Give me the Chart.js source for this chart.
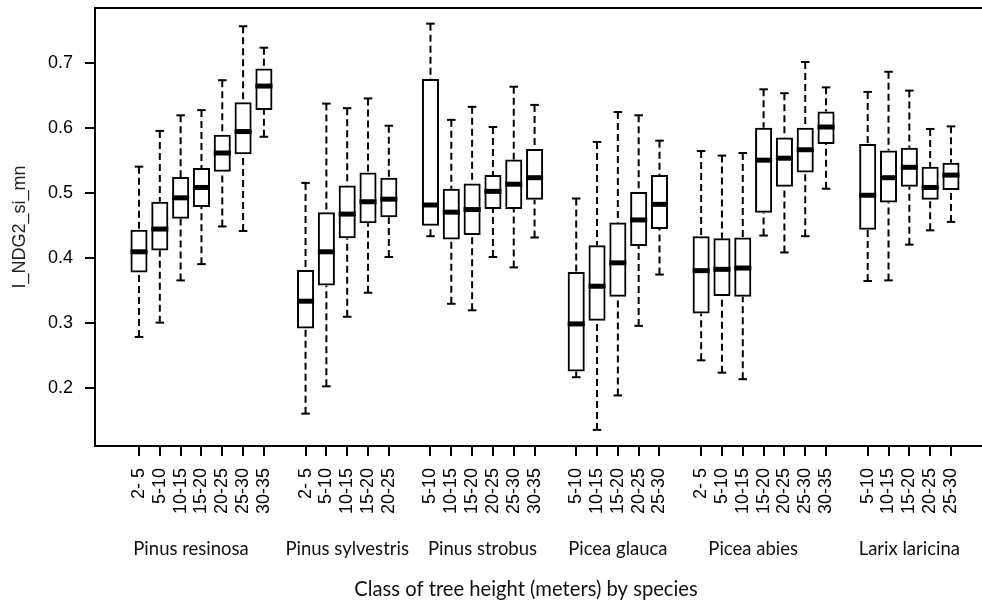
<!DOCTYPE html>
<html>
<head>
<meta charset="utf-8">
<script src="https://cdn.jsdelivr.net/npm/chart.js@4.4.1/dist/chart.umd.min.js"></script>
<style>
  html, body { margin: 0; padding: 0; background: #fff; overflow: hidden; }
  #wrap { width: 982px; height: 603px; position: relative; }
</style>
</head>
<body>
<div id="wrap"><canvas id="boxes"></canvas></div>
<script>
// species and their height classes (one box per class)
const species = ['Pinus resinosa', 'Pinus sylvestris', 'Pinus strobus', 'Picea glauca', 'Picea abies', 'Larix laricina'];
const heightClasses = [
  ['2- 5', '5-10', '10-15', '15-20', '20-25', '25-30', '30-35'],
  ['2- 5', '5-10', '10-15', '15-20', '20-25'],
  ['5-10', '10-15', '15-20', '20-25', '25-30', '30-35'],
  ['5-10', '10-15', '15-20', '20-25', '25-30'],
  ['2- 5', '5-10', '10-15', '15-20', '20-25', '25-30', '30-35'],
  ['5-10', '10-15', '15-20', '20-25', '25-30'],
];

// box statistics, in the same order as the classes above
const lowWhisker = [
  0.279, 0.301, 0.366, 0.391, 0.449, 0.442, 0.587,
  0.161, 0.203, 0.310, 0.347, 0.402,
  0.434, 0.330, 0.320, 0.402, 0.386, 0.432,
  0.217, 0.136, 0.189, 0.296, 0.375,
  0.243, 0.224, 0.214, 0.435, 0.409, 0.434, 0.507,
  0.365, 0.366, 0.421, 0.443, 0.456,
];
const lowerHinge = [
  0.378, 0.412, 0.461, 0.479, 0.533, 0.560, 0.628,
  0.292, 0.358, 0.431, 0.454, 0.463,
  0.450, 0.429, 0.436, 0.476, 0.476, 0.490,
  0.226, 0.304, 0.341, 0.419, 0.445,
  0.315, 0.342, 0.341, 0.470, 0.510, 0.532, 0.576,
  0.444, 0.486, 0.510, 0.490, 0.505,
];
const medians = [
  0.410, 0.445, 0.493, 0.509, 0.562, 0.595, 0.665,
  0.334, 0.410, 0.468, 0.487, 0.491,
  0.482, 0.471, 0.475, 0.503, 0.514, 0.524,
  0.299, 0.357, 0.393, 0.459, 0.483,
  0.381, 0.383, 0.385, 0.551, 0.554, 0.567, 0.602,
  0.497, 0.524, 0.540, 0.509, 0.528,
];
const upperHinge = [
  0.444, 0.487, 0.525, 0.539, 0.590, 0.640, 0.692,
  0.382, 0.471, 0.512, 0.532, 0.524,
  0.676, 0.507, 0.515, 0.528, 0.552, 0.568,
  0.379, 0.420, 0.455, 0.502, 0.528,
  0.434, 0.431, 0.432, 0.601, 0.586, 0.601, 0.626,
  0.576, 0.566, 0.570, 0.541, 0.547,
];
const highWhisker = [
  0.541, 0.596, 0.620, 0.628, 0.674, 0.757, 0.724,
  0.516, 0.638, 0.631, 0.646, 0.604,
  0.761, 0.613, 0.633, 0.602, 0.664, 0.636,
  0.492, 0.579, 0.625, 0.620, 0.581,
  0.565, 0.558, 0.562, 0.660, 0.654, 0.702, 0.663,
  0.656, 0.687, 0.658, 0.599, 0.603,
];
const yTicks = [0.2, 0.3, 0.4, 0.5, 0.6, 0.7];

// one slot per box, one empty slot between species
const slots = [];
const slotLabel = {};
let s = 1;
heightClasses.forEach(group => {
  group.forEach(c => { slots.push(s); slotLabel[s] = c; s++; });
  s++;
});

// where the species names sit, in slot units
const speciesAt = [3.5, 11, 17.5, 24, 30.5, 38];

const axisFont = { family: '"Liberation Sans", Arial, sans-serif', size: 18 };

const boxParts = {
  id: 'boxParts',
  afterDatasetsDraw(chart) {
    const { ctx, chartArea: a, scales: { x, y } } = chart;
    const meta = chart.getDatasetMeta(0);
    ctx.save();
    ctx.strokeStyle = '#000';
    ctx.lineCap = 'butt';
    meta.data.forEach((bar, i) => {
      const cx = x.getPixelForValue(slots[i]);
      const half = bar.width / 2;
      // dashed whiskers, drawn from the whisker end to the hinge
      ctx.lineWidth = 2;
      ctx.setLineDash([7, 4]);
      [[lowWhisker[i], lowerHinge[i]], [highWhisker[i], upperHinge[i]]].forEach(([from, to]) => {
        ctx.beginPath();
        ctx.moveTo(cx, y.getPixelForValue(from));
        ctx.lineTo(cx, y.getPixelForValue(to));
        ctx.stroke();
      });
      ctx.setLineDash([]);
      [lowWhisker[i], highWhisker[i]].forEach(v => {
        const py = y.getPixelForValue(v);
        ctx.beginPath();
        ctx.moveTo(cx - half / 2, py);
        ctx.lineTo(cx + half / 2, py);
        ctx.stroke();
      });
      // median
      ctx.lineWidth = 5;
      const my = y.getPixelForValue(medians[i]);
      ctx.beginPath();
      ctx.moveTo(cx - half, my);
      ctx.lineTo(cx + half, my);
      ctx.stroke();
    });

    // plot frame (right side falls outside the picture)
    ctx.lineWidth = 2;
    ctx.beginPath();
    ctx.moveTo(chart.width, a.top);
    ctx.lineTo(a.left, a.top);
    ctx.lineTo(a.left, a.bottom);
    ctx.lineTo(chart.width, a.bottom);
    ctx.stroke();

    // species names and axis titles
    ctx.fillStyle = '#111';
    ctx.textAlign = 'center';
    ctx.textBaseline = 'alphabetic';
    ctx.font = '18.5px Lato, "Open Sans", sans-serif';
    species.forEach((name, i) => {
      ctx.fillText(name, x.getPixelForValue(speciesAt[i]), 555);
    });
    ctx.font = '20.2px Lato, "Open Sans", sans-serif';
    ctx.fillText('Class of tree height (meters) by species', 526, 596);

    ctx.translate(20, (a.top + a.bottom) / 2);
    ctx.rotate(-Math.PI / 2);
    ctx.font = '18px "Liberation Sans", Arial, sans-serif';
    ctx.textBaseline = 'middle';
    ctx.fillStyle = '#222';
    ctx.fillText('I_NDG2_si_mn', 0, 0);
    ctx.restore();
  }
};

new Chart(document.getElementById('boxes'), {
  type: 'bar',
  data: {
    datasets: [{
      data: slots.map((v, i) => ({ x: v, y: [lowerHinge[i], upperHinge[i]] })),
      backgroundColor: 'rgba(255,255,255,0)',
      borderColor: '#000',
      borderWidth: 2,
      borderSkipped: false,
      categoryPercentage: 1,
      barPercentage: 0.82,
    }],
  },
  options: {
    responsive: true,
    maintainAspectRatio: false,
    animation: false,
    layout: { padding: { top: 8, left: 0, right: 0, bottom: 0 } },
    plugins: { legend: { display: false }, tooltip: { enabled: false } },
    scales: {
      x: {
        type: 'linear',
        min: -1.113,
        max: 41.49,
        offset: false,
        afterBuildTicks: sc => { sc.ticks = slots.map(v => ({ value: v })); },
        afterFit: sc => { sc.height = 157; sc.paddingLeft = 0; sc.paddingRight = 0; },
        grid: { offset: false, drawOnChartArea: false, tickLength: 10, lineWidth: 2, color: '#000' },
        border: { display: false },
        ticks: {
          autoSkip: false, minRotation: 90, maxRotation: 90, padding: 12,
          color: '#000', font: axisFont,
          callback: v => slotLabel[v] || '',
        },
      },
      y: {
        type: 'linear',
        min: 0.1112,
        max: 0.7851,
        afterBuildTicks: sc => { sc.ticks = yTicks.map(v => ({ value: v })); },
        afterFit: sc => { sc.width = 95; sc.paddingTop = 0; sc.paddingBottom = 0; },
        grid: { drawOnChartArea: false, tickLength: 10, lineWidth: 2, color: '#000' },
        border: { display: false },
        ticks: { padding: 12, color: '#000', font: axisFont, callback: v => v.toFixed(1) },
      },
    },
  },
  plugins: [boxParts],
});
</script>
</body>
</html>
